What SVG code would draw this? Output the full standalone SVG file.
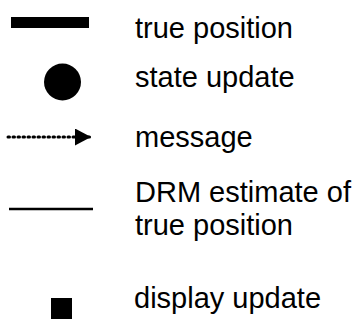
<svg xmlns="http://www.w3.org/2000/svg" width="358" height="321" viewBox="0 0 358 321">
  <style>
    .lbl { font-family: "Liberation Sans", Arial, sans-serif; font-size: 29px; fill: #000; }
    .dot { stroke: #000; stroke-width: 3; stroke-dasharray: 1.5 3.5; stroke-linecap: round; fill: none; }
  </style>
  <defs>
    <marker id="arrowhead" viewBox="0 0 16 17" refX="16" refY="8.5" markerWidth="16" markerHeight="17" markerUnits="userSpaceOnUse" orient="auto">
      <path d="M0,0 L16,8.5 L0,17 Z" fill="#000"/>
    </marker>
  </defs>
  <rect width="358" height="321" fill="#fff"/>

  <!-- legend symbols -->
  <g id="true-position">
    <rect x="11" y="17" width="78" height="11" fill="#000"/>
    <text class="lbl" x="135" y="38">true position</text>
  </g>
  <g id="state-update">
    <circle cx="62.5" cy="82" r="18.5" fill="#000"/>
    <text class="lbl" x="135" y="87">state update</text>
  </g>
  <g id="connectors">
    <line class="dot" x1="8" y1="137" x2="91" y2="137" marker-end="url(#arrowhead)"/>
  </g>
  <g id="message">
    <text class="lbl" x="135" y="147">message</text>
  </g>
  <g id="drm-estimate">
    <line x1="9" y1="209" x2="93" y2="209" stroke="#000" stroke-width="2.5"/>
    <text class="lbl" x="135" y="202">DRM estimate of</text>
    <text class="lbl" x="135" y="235">true position</text>
  </g>
  <g id="display-update">
    <rect x="51" y="298" width="21" height="21" fill="#000"/>
    <text class="lbl" x="134" y="308">display update</text>
  </g>
</svg>
